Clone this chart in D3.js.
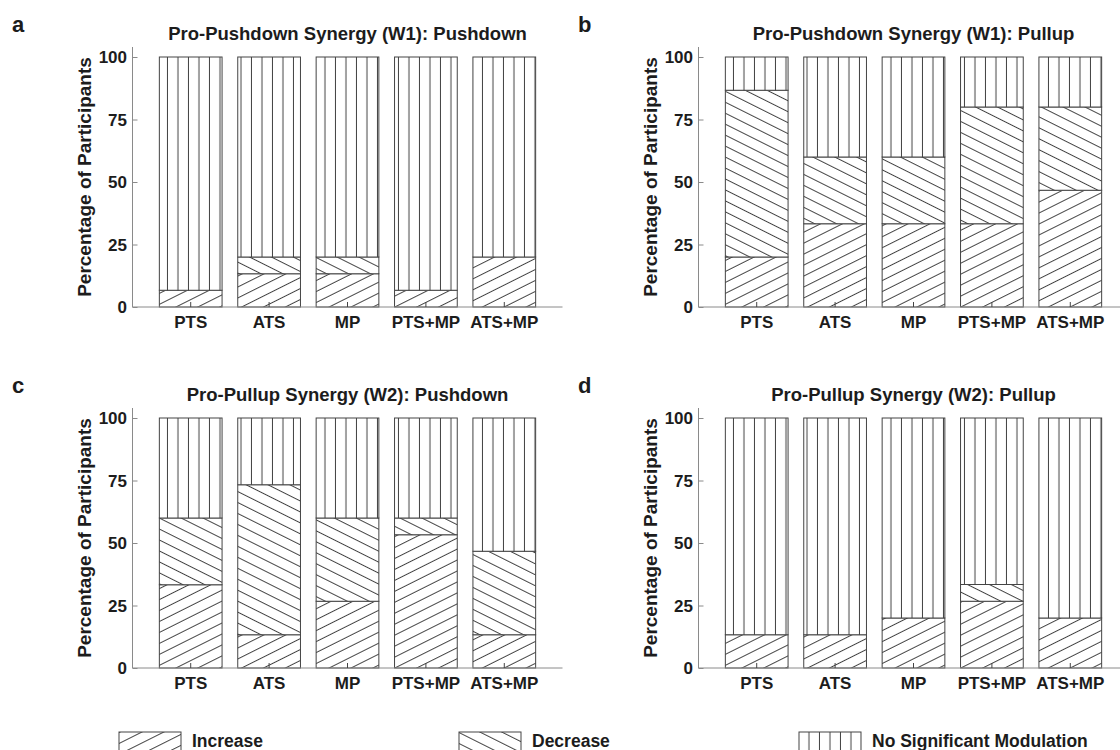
<!DOCTYPE html>
<html>
<head>
<meta charset="utf-8">
<script src="https://cdn.jsdelivr.net/npm/d3@7"></script>
<style>
  body { margin: 0; background: #fff; }
  svg { display: block; font-family: "Liberation Sans", Arial, Helvetica, sans-serif; }
</style>
</head>
<body>
<svg id="chart" width="1120" height="750"></svg>
<script>
// categories and ticks
const categories = ['PTS', 'ATS', 'MP', 'PTS+MP', 'ATS+MP']
const yTicks = [0, 25, 50, 75, 100]
const panelLetters = ['a', 'b', 'c', 'd']
const panelTitles = [
  'Pro-Pushdown Synergy (W1): Pushdown',
  'Pro-Pushdown Synergy (W1): Pullup',
  'Pro-Pullup Synergy (W2): Pushdown',
  'Pro-Pullup Synergy (W2): Pullup'
]
const legendLabels = ['Increase', 'Decrease', 'No Significant Modulation']

// percentages (increase / decrease / no modulation)
const increaseA = [6.7, 13.3, 13.3, 6.7, 20]
const decreaseA = [0, 6.7, 6.7, 0, 0]
const noModA = [93.3, 80, 80, 93.3, 80]

const increaseB = [20, 33.3, 33.3, 33.3, 46.7]
const decreaseB = [66.7, 26.7, 26.7, 46.7, 33.3]
const noModB = [13.3, 40, 40, 20, 20]

const increaseC = [33.3, 13.3, 26.7, 53.3, 13.3]
const decreaseC = [26.7, 60, 33.3, 6.7, 33.4]
const noModC = [40, 26.7, 40, 40, 53.3]

const increaseD = [13.3, 13.3, 20, 26.7, 20]
const decreaseD = [0, 0, 0, 6.7, 0]
const noModD = [86.7, 86.7, 80, 66.6, 80]

const panelData = [
  [increaseA, decreaseA, noModA],
  [increaseB, decreaseB, noModB],
  [increaseC, decreaseC, noModC],
  [increaseD, decreaseD, noModD]
]

const keys = ['inc', 'dec', 'nsm']
const textColor = '#1c1c1c'
const lineColor = '#444'
const axisColor = '#8a8a8a'

const svg = d3.select('#chart')
const defs = svg.append('defs')

// hatch patterns
function hatch(id, angle, spacing) {
  const p = defs.append('pattern')
    .attr('id', id)
    .attr('patternUnits', 'userSpaceOnUse')
    .attr('width', 20)
    .attr('height', spacing)
    .attr('patternTransform', `rotate(${angle})`)
  p.append('rect').attr('width', 20).attr('height', spacing).attr('fill', '#fff')
  p.append('line')
    .attr('x1', 0).attr('x2', 20).attr('y1', 0.5).attr('y2', 0.5)
    .attr('stroke', lineColor).attr('stroke-width', 1)
}
hatch('hatch-inc', -26.6, 9.8)
hatch('hatch-dec', 26.6, 9.8)
hatch('hatch-nsm', 90, 10.5)

const fills = { inc: 'url(#hatch-inc)', dec: 'url(#hatch-dec)', nsm: 'url(#hatch-nsm)' }

// panel layout
const offsets = [[0, 0], [566, 0], [0, 361], [566, 361]]
const axisX = 132.5
const axisEnd = 562.5

const x = d3.scaleBand()
  .domain(categories)
  .range([axisX, axisEnd])
  .paddingInner(0.2)
  .paddingOuter(0.3425)

const y = d3.scaleLinear()
  .domain([0, 104])
  .range([307, 47])

const stack = d3.stack().keys(keys)

panelData.forEach((series, i) => {
  const [dx, dy] = offsets[i]
  const g = svg.append('g').attr('transform', `translate(${dx},${dy})`)

  const rows = categories.map((c, j) => ({
    cat: c, inc: series[0][j], dec: series[1][j], nsm: series[2][j]
  }))
  const layers = stack(rows)

  // bars
  g.selectAll('.layer')
    .data(layers)
    .join('g')
      .attr('class', 'layer')
      .attr('fill', d => fills[d.key])
    .selectAll('rect')
    .data(d => d.filter(s => s[1] - s[0] > 0))
    .join('rect')
      .attr('x', d => x(d.data.cat))
      .attr('y', d => y(d[1]))
      .attr('width', x.bandwidth())
      .attr('height', d => y(d[0]) - y(d[1]))
      .attr('stroke', lineColor)
      .attr('stroke-width', 1)

  // y axis
  const yAxis = g.append('g')
    .attr('transform', `translate(${axisX},0)`)
    .call(d3.axisRight(y).tickValues(yTicks).tickSize(5).tickFormat(''))
  yAxis.select('.domain').attr('stroke', axisColor).attr('d', `M0,${y(104)}V${y(0)}`)
  yAxis.selectAll('.tick line').attr('stroke', axisColor)

  g.selectAll('.ytl')
    .data(yTicks)
    .join('text')
      .attr('class', 'ytl')
      .attr('x', axisX - 5.5)
      .attr('y', d => y(d))
      .attr('dy', '0.36em')
      .attr('text-anchor', 'end')
      .attr('font-size', 17)
      .attr('font-weight', 'bold')
      .attr('fill', textColor)
      .text(d => d)

  // x axis
  const xAxis = g.append('g')
    .attr('transform', `translate(0,${y(0)})`)
    .call(d3.axisTop(x).tickSize(5).tickFormat(''))
  xAxis.select('.domain').attr('stroke', axisColor).attr('d', `M${axisX},0H${dx ? 1120 - dx + 10 : axisEnd}`)
  xAxis.selectAll('.tick line').attr('stroke', lineColor)

  g.selectAll('.xtl')
    .data(categories)
    .join('text')
      .attr('class', 'xtl')
      .attr('x', d => x(d) + x.bandwidth() / 2)
      .attr('y', 328)
      .attr('text-anchor', 'middle')
      .attr('font-size', 17)
      .attr('font-weight', 'bold')
      .attr('fill', textColor)
      .text(d => d)

  // y label
  g.append('text')
    .attr('transform', `translate(91,177) rotate(-90)`)
    .attr('text-anchor', 'middle')
    .attr('font-size', 19)
    .attr('font-weight', 'bold')
    .attr('fill', textColor)
    .text('Percentage of Participants')

  // title
  g.append('text')
    .attr('x', (x(categories[0]) + x(categories[4]) + x.bandwidth()) / 2)
    .attr('y', 40)
    .attr('text-anchor', 'middle')
    .attr('font-size', 18.5)
    .attr('font-weight', 'bold')
    .attr('fill', textColor)
    .text(panelTitles[i])

  // panel letter
  g.append('text')
    .attr('x', 12)
    .attr('y', 32)
    .attr('font-size', 22)
    .attr('font-weight', 'bold')
    .attr('fill', textColor)
    .text(panelLetters[i])
})

// legend
const legend = svg.append('g').attr('transform', 'translate(119,732)')
const lg = legend.selectAll('g')
  .data(keys)
  .join('g')
    .attr('transform', (d, i) => `translate(${i * 340},0)`)
lg.append('rect')
  .attr('width', 62)
  .attr('height', 22)
  .attr('fill', d => fills[d])
  .attr('stroke', lineColor)
  .attr('stroke-width', 1)
lg.append('text')
  .attr('x', 73)
  .attr('y', 15)
  .attr('font-size', 17.5)
  .attr('font-weight', 'bold')
  .attr('fill', textColor)
  .text((d, i) => legendLabels[i])
</script>
</body>
</html>
